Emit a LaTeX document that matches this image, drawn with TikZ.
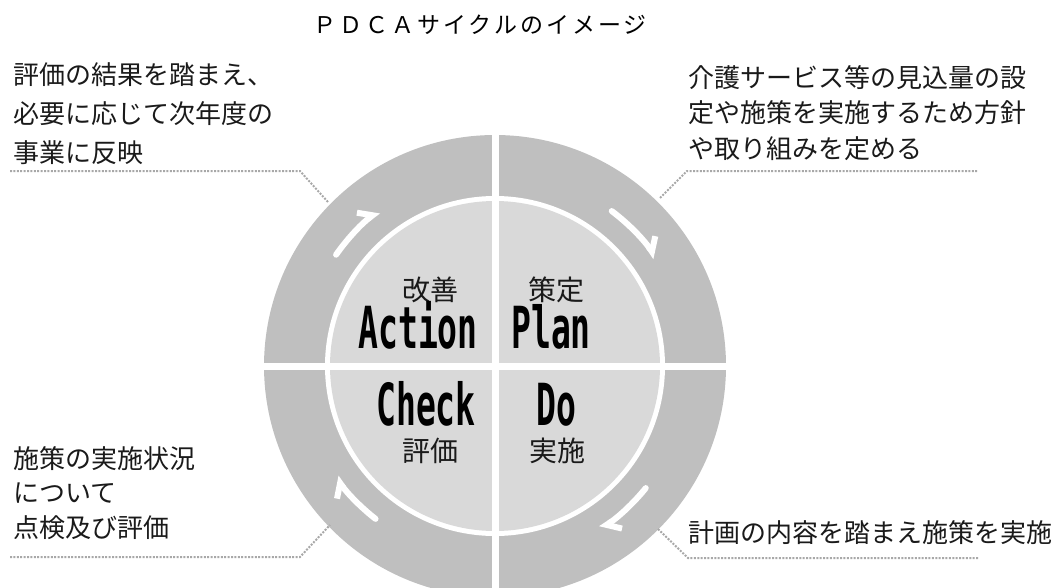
\documentclass[tikz,border=0pt]{standalone}
\usepackage{fontspec}
\usetikzlibrary{arrows.meta}
\newfontfamily\jp{Noto Sans CJK JP}
\newfontfamily\jptitle[LetterSpace=13]{Noto Sans CJK JP}
\newfontfamily\cond[FakeStretch=0.57]{DejaVu Sans Mono Bold}
\definecolor{ringgray}{HTML}{BFBFBF}
\definecolor{innergray}{HTML}{D9D9D9}
\definecolor{dotgray}{HTML}{A8A8A8}
\definecolor{txt}{HTML}{1A1A1A}
\begin{document}
\begin{tikzpicture}[x=1pt,y=-1pt,
  ringarrow/.style={white, line width=6pt, line cap=round,
    -{Straight Barb[left, length=11pt, width=23pt]}},
  leader/.style={draw=dotgray, line width=2pt, dash pattern=on 2pt off 1.4pt},
  note/.style={text=txt, inner sep=0pt, align=left, anchor=north west},
  jpbig/.style={font=\jp\fontsize{28}{30}\selectfont, text=txt, inner sep=0pt},
  latinbig/.style={font=\cond\fontsize{58}{60}\selectfont, text=black, inner sep=0pt}]
\useasboundingbox (0,0) rectangle (1063,587);
\clip (0,0) rectangle (1063,587);
% circle
\coordinate (c) at (495,366);
\fill[ringgray] (c) circle[radius=231];
\fill[white] (c) circle[radius=170];
\fill[innergray] (c) circle[radius=165];
\draw[white, line width=7pt] (495,120) -- (495,600);
\draw[white, line width=7pt] (250,366) -- (740,366);
% cycle arrows
\draw[ringarrow] (c) ++(-145:194) arc[start angle=-145, end angle=-127, radius=194];
\draw[ringarrow] (c) ++(-53:194) arc[start angle=-53, end angle=-34, radius=194];
\draw[ringarrow] (c) ++(39:194) arc[start angle=39, end angle=57, radius=194];
\draw[ringarrow] (c) ++(128:194) arc[start angle=128, end angle=145, radius=194];
% title
\node[font=\jptitle\fontsize{23}{26}\selectfont, text=black, inner sep=0pt] (title) at (480,25) {ＰＤＣＡサイクルのイメージ};
% center labels
\node[jpbig] (kaizen) at (430,290) {改善};
\node[jpbig] (sakutei) at (556,290) {策定};
\node[latinbig, anchor=base east] (action) at (478,348) {Action};
\node[latinbig, anchor=base west] (plan) at (511,348) {Plan};
\node[latinbig, anchor=base east] (check) at (476,425) {Check};
\node[latinbig, anchor=base west] (do) at (536,425) {Do};
\node[jpbig] (hyoka) at (430,451) {評価};
\node[jpbig] (jisshi) at (557,451) {実施};
% notes
\node[note, font=\jp\fontsize{26}{39}\selectfont] (tl) at (13,62)
  {評価の結果を踏まえ、\\必要に応じて次年度の\\事業に反映};
\node[note, font=\jp\fontsize{26}{35.5}\selectfont] (tr) at (688,65)
  {介護サービス等の見込量の設\\定や施策を実施するため方針\\や取り組みを定める};
\node[note, font=\jp\fontsize{26}{34.5}\selectfont] (bl) at (13,446)
  {施策の実施状況\\について\\点検及び評価};
\node[note, font=\jp\fontsize{26}{35}\selectfont] (br) at (688,520)
  {計画の内容を踏まえ施策を実施};
% leaders
\coordinate (tl0) at (10,171);
\coordinate (tl1) at (300,171);
\coordinate (tl2) at (328,202);
\coordinate (tr0) at (660,198);
\coordinate (tr1) at (687,171);
\coordinate (tr2) at (978,171);
\coordinate (br0) at (658,529);
\coordinate (br1) at (688,558);
\coordinate (br2) at (978,558);
\coordinate (bl0) at (10,557);
\coordinate (bl1) at (300,557);
\coordinate (bl2) at (330,525);
\draw[leader] (tl0) -- (tl1) -- (tl2);
\draw[leader] (tr0) -- (tr1) -- (tr2);
\draw[leader] (br0) -- (br1) -- (br2);
\draw[leader] (bl0) -- (bl1) -- (bl2);
\end{tikzpicture}
\end{document}
